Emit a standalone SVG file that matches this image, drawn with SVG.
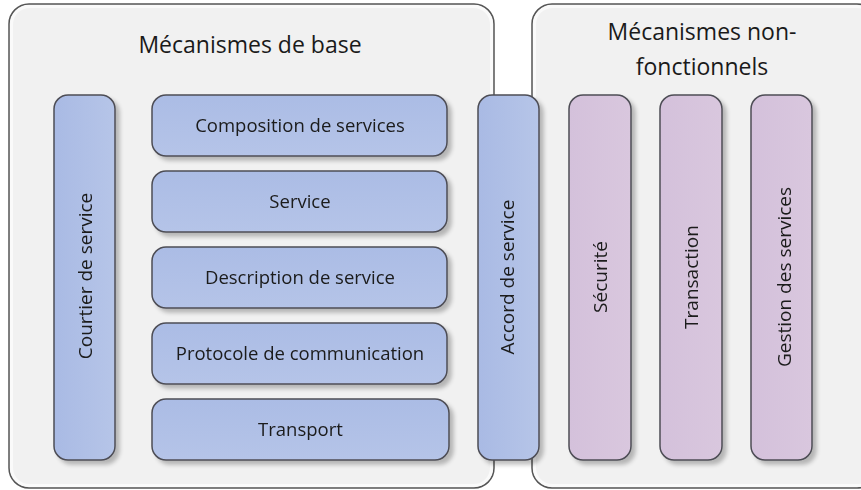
<svg xmlns="http://www.w3.org/2000/svg" width="861" height="490" viewBox="0 0 861 490">
<defs>
<linearGradient id="gBlue" x1="0" y1="0" x2="1" y2="0">
<stop offset="0" stop-color="#a9bae4"/>
<stop offset="1" stop-color="#b6c5e8"/>
</linearGradient>
<linearGradient id="gBlueH" x1="0" y1="0" x2="0" y2="1">
<stop offset="0" stop-color="#abbce5"/>
<stop offset="1" stop-color="#b5c4e8"/>
</linearGradient>
<linearGradient id="gPurple" x1="0" y1="0" x2="1" y2="0">
<stop offset="0" stop-color="#d4c1db"/>
<stop offset="1" stop-color="#d9c7de"/>
</linearGradient>
<filter id="sh" x="-20%" y="-20%" width="140%" height="140%">
<feGaussianBlur in="SourceAlpha" stdDeviation="2"/>
<feOffset dx="4" dy="4" result="b"/>
<feComponentTransfer><feFuncA type="linear" slope="0.25"/></feComponentTransfer>
<feMerge><feMergeNode/><feMergeNode in="SourceGraphic"/></feMerge>
</filter>
</defs>
<style>
.cont{fill:#f1f1f1;stroke:#555;stroke-width:1.5}
.inner{fill:none;stroke:#fafafa;stroke-width:3}
.blue{fill:url(#gBlue);stroke:#4d4d55;stroke-width:1.5}
.blueh{fill:url(#gBlueH);stroke:#4d4d55;stroke-width:1.5}
.purple{fill:url(#gPurple);stroke:#4d4d55;stroke-width:1.5}
text{font-family:"Open Sans","Noto Sans","Liberation Sans",sans-serif;fill:#1a1a1a;text-anchor:middle}
.title{font-size:23px}
.lbl{font-size:18.5px}
.vl{font-size:19px}
</style>
<rect width="861" height="490" fill="#ffffff"/>
<g id="container-base">
<rect class="cont" x="9" y="4" width="485" height="484" rx="20"/>
<rect class="inner" x="11.5" y="6.5" width="480" height="479" rx="18"/>
<text class="title" x="250" y="53">Mécanismes de base</text>
</g>
<g id="container-nonfonct">
<rect class="cont" x="532" y="4" width="345" height="484" rx="20"/>
<rect class="inner" x="534.5" y="6.5" width="340" height="479" rx="18"/>
<text class="title" x="702" y="40">Mécanismes non-</text>
<text class="title" x="702" y="75">fonctionnels</text>
</g>
<g id="courtier" filter="url(#sh)">
<rect class="blue" x="54" y="95" width="61" height="365" rx="14"/>
<text class="vl" transform="translate(92,276) rotate(-90)">Courtier de service</text>
</g>
<g id="composition" filter="url(#sh)">
<rect class="blueh" x="152" y="95" width="295" height="61" rx="14"/>
<text class="lbl" x="300" y="132">Composition de services</text>
</g>
<g id="service" filter="url(#sh)">
<rect class="blueh" x="152" y="171" width="295" height="61" rx="14"/>
<text class="lbl" x="300" y="208">Service</text>
</g>
<g id="description" filter="url(#sh)">
<rect class="blueh" x="152" y="247" width="295" height="61" rx="14"/>
<text class="lbl" x="300" y="284">Description de service</text>
</g>
<g id="protocole" filter="url(#sh)">
<rect class="blueh" x="152" y="323" width="295" height="61" rx="14"/>
<text class="lbl" x="300" y="360">Protocole de communication</text>
</g>
<g id="transport" filter="url(#sh)">
<rect class="blueh" x="152" y="399" width="297" height="61" rx="14"/>
<text class="lbl" x="300.5" y="436">Transport</text>
</g>
<g id="accord" filter="url(#sh)">
<rect class="blue" x="478" y="95" width="61" height="365" rx="14"/>
<text class="vl" transform="translate(514,277) rotate(-90)">Accord de service</text>
</g>
<g id="securite" filter="url(#sh)">
<rect class="purple" x="569" y="95" width="62" height="365" rx="14"/>
<text class="vl" transform="translate(607,277) rotate(-90)">Sécurité</text>
</g>
<g id="transaction" filter="url(#sh)">
<rect class="purple" x="660" y="95" width="62" height="365" rx="14"/>
<text class="vl" transform="translate(698,277) rotate(-90)">Transaction</text>
</g>
<g id="gestion" filter="url(#sh)">
<rect class="purple" x="751" y="95" width="61" height="365" rx="14"/>
<text class="vl" transform="translate(791,277) rotate(-90)">Gestion des services</text>
</g>
<g id="connectors"></g>
</svg>
